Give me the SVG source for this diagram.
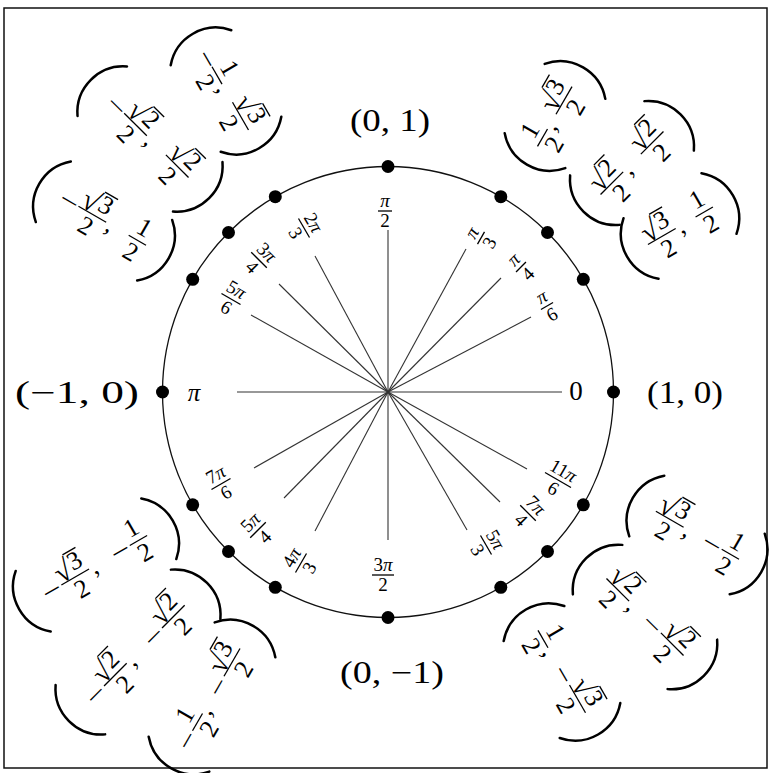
<svg xmlns="http://www.w3.org/2000/svg" width="776" height="773" viewBox="0 0 776 773">
<style>
.f{font-family:"Liberation Serif","DejaVu Serif",serif;font-size:26px;text-anchor:middle;fill:#000}
.r{font-family:"Liberation Serif","DejaVu Serif",serif;font-size:30px;fill:#000}
.d{font-family:"Liberation Serif","DejaVu Serif",serif;font-size:26px;fill:#000}
.a{font-family:"Liberation Serif","DejaVu Serif",serif;font-size:19px;text-anchor:middle;fill:#000}
.big{font-family:"Liberation Serif","DejaVu Serif",serif;font-size:31px;text-anchor:middle;fill:#000}
.i{font-style:italic}
.bar{stroke:#000;stroke-width:1.3;fill:none}
.par{fill:none;stroke:#000;stroke-width:2.5;stroke-linecap:round}
.dot{fill:#000}
.ray{stroke:#333;stroke-width:1.1;fill:none}
.circ{fill:none;stroke:#111;stroke-width:1.3}
.frame{fill:none;stroke:#111;stroke-width:1.5}
</style>
<rect class="frame" x="4" y="8" width="763" height="760"/>
<g id="circle"><circle class="circ" cx="388" cy="392" r="225.5"/></g>
<g id="connectors">
<path class="ray" d="M388 392L562 392"/>
<path class="ray" d="M388 392L531 317"/>
<path class="ray" d="M388 392L501 278"/>
<path class="ray" d="M388 392L466 249"/>
<path class="ray" d="M388 392L388 230"/>
<path class="ray" d="M388 392L315 256"/>
<path class="ray" d="M388 392L279 284"/>
<path class="ray" d="M388 392L251 315"/>
<path class="ray" d="M388 392L237 392"/>
<path class="ray" d="M388 392L254 468"/>
<path class="ray" d="M388 392L284 498"/>
<path class="ray" d="M388 392L315 531"/>
<path class="ray" d="M388 392L388 540"/>
<path class="ray" d="M388 392L467 530"/>
<path class="ray" d="M388 392L500 502"/>
<path class="ray" d="M388 392L527 469"/>
</g>

<g id="node-0">
<circle class="dot" cx="613.5" cy="392" r="6.5"/>
<text class="big" x="685" y="403" textLength="76" lengthAdjust="spacingAndGlyphs">(1, 0)</text>
<text class="f" x="576" y="400" style="font-size:27px">0</text>
</g>

<g id="node-30">
<circle class="dot" cx="583.3" cy="279.3" r="6.5"/>
<g transform="translate(547 306) rotate(-30)"><text class="a i" x="0" y="-4.5">π</text><path class="bar" d="M-7 0h14"/><text class="a" x="0" y="16">6</text></g>
<g transform="translate(680 226) rotate(-30)">
<path class="par" d="M-45 -35A46 46 0 0 0 -45 35"/><path class="par" d="M45 -35A46 46 0 0 1 45 35"/>
<text class="r" x="-37" y="-1">√</text><text class="d" x="-20" y="-6">3</text><path class="bar" d="M-21 -25.5h15"/><path class="bar" d="M-37 0h32"/><text class="f" x="-21" y="22">2</text>
<text class="f" x="0" y="8">,</text>
<text class="f" x="28" y="-6">1</text><path class="bar" d="M18 0h20"/><text class="f" x="28" y="22">2</text>
</g>
</g>

<g id="node-45">
<circle class="dot" cx="547.5" cy="232.5" r="6.5"/>
<g transform="translate(521 267) rotate(-45)"><text class="a i" x="0" y="-4.5">π</text><path class="bar" d="M-7 0h14"/><text class="a" x="0" y="16">4</text></g>
<g transform="translate(632 163) rotate(-45)">
<path class="par" d="M-52.5 -35A46 46 0 0 0 -52.5 35"/><path class="par" d="M52.5 -35A46 46 0 0 1 52.5 35"/>
<text class="r" x="-44.5" y="-1">√</text><text class="d" x="-27.5" y="-6">2</text><path class="bar" d="M-28.5 -25.5h15"/><path class="bar" d="M-44.5 0h32"/><text class="f" x="-28.5" y="22">2</text>
<text class="f" x="-7.5" y="8">,</text>
<text class="r" x="12.5" y="-1">√</text><text class="d" x="29.5" y="-6">2</text><path class="bar" d="M28.5 -25.5h15"/><path class="bar" d="M12.5 0h32"/><text class="f" x="28.5" y="22">2</text>
</g>
</g>

<g id="node-60">
<circle class="dot" cx="500.8" cy="196.7" r="6.5"/>
<g transform="translate(481 238) rotate(-60)"><text class="a i" x="0" y="-4.5">π</text><path class="bar" d="M-7 0h14"/><text class="a" x="0" y="16">3</text></g>
<g transform="translate(555 116) rotate(-60)">
<path class="par" d="M-40 -35A46 46 0 0 0 -40 35"/><path class="par" d="M40 -35A46 46 0 0 1 40 35"/>
<text class="f" x="-25" y="-6">1</text><path class="bar" d="M-35 0h20"/><text class="f" x="-25" y="22">2</text>
<text class="f" x="-11" y="8">,</text>
<text class="r" x="2" y="-1">√</text><text class="d" x="19" y="-6">3</text><path class="bar" d="M18 -25.5h15"/><path class="bar" d="M2 0h32"/><text class="f" x="18" y="22">2</text>
</g>
</g>

<g id="node-90">
<circle class="dot" cx="388" cy="166.5" r="6.5"/>
<text class="big" x="390" y="131" textLength="80" lengthAdjust="spacingAndGlyphs">(0, 1)</text>
<g transform="translate(385 211)"><text class="a i" x="0" y="-4.5">π</text><path class="bar" d="M-7 0h14"/><text class="a" x="0" y="16">2</text></g>
</g>

<g id="node-120">
<circle class="dot" cx="275.3" cy="196.7" r="6.5"/>
<g transform="translate(304 228) rotate(60)"><text class="a" x="0" y="-4.5">2<tspan class="i">π</tspan></text><path class="bar" d="M-11 0h22"/><text class="a" x="0" y="16">3</text></g>
<g transform="translate(226 91) rotate(60)">
<path class="par" d="M-50 -35A46 46 0 0 0 -50 35"/><path class="par" d="M50 -35A46 46 0 0 1 50 35"/>
<text class="f" x="-37" y="9" textLength="18" lengthAdjust="spacingAndGlyphs">−</text>
<text class="f" x="-18" y="-6">1</text><path class="bar" d="M-28 0h20"/><text class="f" x="-18" y="22">2</text>
<text class="f" x="-4" y="8">,</text>
<text class="r" x="13" y="-1">√</text><text class="d" x="30" y="-6">3</text><path class="bar" d="M29 -25.5h15"/><path class="bar" d="M13 0h32"/><text class="f" x="29" y="22">2</text>
</g>
</g>

<g id="node-135">
<circle class="dot" cx="228.5" cy="232.5" r="6.5"/>
<g transform="translate(259 260) rotate(45)"><text class="a" x="0" y="-4.5">3<tspan class="i">π</tspan></text><path class="bar" d="M-11 0h22"/><text class="a" x="0" y="16">4</text></g>
<g transform="translate(150 139) rotate(45)">
<path class="par" d="M-67.5 -35A46 46 0 0 0 -67.5 35"/><path class="par" d="M67.5 -35A46 46 0 0 1 67.5 35"/>
<text class="f" x="-47" y="9" textLength="19" lengthAdjust="spacingAndGlyphs">−</text>
<text class="r" x="-36.5" y="-1">√</text><text class="d" x="-19.5" y="-6">2</text><path class="bar" d="M-20.5 -25.5h15"/><path class="bar" d="M-36.5 0h32"/><text class="f" x="-20.5" y="22">2</text>
<text class="f" x="0.5" y="8">,</text>
<text class="r" x="22.5" y="-1">√</text><text class="d" x="39.5" y="-6">2</text><path class="bar" d="M38.5 -25.5h15"/><path class="bar" d="M22.5 0h32"/><text class="f" x="38.5" y="22">2</text>
</g>
</g>

<g id="node-150">
<circle class="dot" cx="192.7" cy="279.3" r="6.5"/>
<g transform="translate(231 299) rotate(30)"><text class="a" x="0" y="-4.5">5<tspan class="i">π</tspan></text><path class="bar" d="M-11 0h22"/><text class="a" x="0" y="16">6</text></g>
<g transform="translate(104 221) rotate(30)">
<path class="par" d="M-58.5 -35A46 46 0 0 0 -58.5 35"/><path class="par" d="M58.5 -35A46 46 0 0 1 58.5 35"/>
<text class="f" x="-40" y="9" textLength="19" lengthAdjust="spacingAndGlyphs">−</text>
<text class="r" x="-29.5" y="-1">√</text><text class="d" x="-12.5" y="-6">3</text><path class="bar" d="M-13.5 -25.5h15"/><path class="bar" d="M-29.5 0h32"/><text class="f" x="-13.5" y="22">2</text>
<text class="f" x="7.5" y="8">,</text>
<text class="f" x="38.5" y="-6">1</text><path class="bar" d="M28.5 0h20"/><text class="f" x="38.5" y="22">2</text>
</g>
</g>

<g id="node-180">
<circle class="dot" cx="162.5" cy="392" r="6.5"/>
<text class="big" x="77" y="403" textLength="124" lengthAdjust="spacingAndGlyphs">(−1, 0)</text>
<text class="f i" x="194" y="401" style="font-size:25px">π</text>
</g>

<g id="node-210">
<circle class="dot" cx="192.7" cy="504.8" r="6.5"/>
<g transform="translate(221 484) rotate(-30)"><text class="a" x="0" y="-4.5">7<tspan class="i">π</tspan></text><path class="bar" d="M-11 0h22"/><text class="a" x="0" y="16">6</text></g>
<g transform="translate(96 565) rotate(-30)">
<path class="par" d="M-72.5 -35A46 46 0 0 0 -72.5 35"/><path class="par" d="M72.5 -35A46 46 0 0 1 72.5 35"/>
<text class="f" x="-51" y="9" textLength="19" lengthAdjust="spacingAndGlyphs">−</text>
<text class="r" x="-40" y="-1">√</text><text class="d" x="-23" y="-6">3</text><path class="bar" d="M-24 -25.5h15"/><path class="bar" d="M-40 0h32"/><text class="f" x="-24" y="22">2</text>
<text class="f" x="-3" y="8">,</text>
<text class="f" x="28" y="9" textLength="19" lengthAdjust="spacingAndGlyphs">−</text>
<text class="f" x="49" y="-6">1</text><path class="bar" d="M39 0h20"/><text class="f" x="49" y="22">2</text>
</g>
</g>

<g id="node-225">
<circle class="dot" cx="228.5" cy="551.5" r="6.5"/>
<g transform="translate(258 530) rotate(-45)"><text class="a" x="0" y="-4.5">5<tspan class="i">π</tspan></text><path class="bar" d="M-11 0h22"/><text class="a" x="0" y="16">4</text></g>
<g transform="translate(138 652) rotate(-45)">
<path class="par" d="M-81.5 -35A46 46 0 0 0 -81.5 35"/><path class="par" d="M81.5 -35A46 46 0 0 1 81.5 35"/>
<text class="f" x="-60" y="9" textLength="19" lengthAdjust="spacingAndGlyphs">−</text>
<text class="r" x="-48" y="-1">√</text><text class="d" x="-31" y="-6">2</text><path class="bar" d="M-32 -25.5h15"/><path class="bar" d="M-48 0h32"/><text class="f" x="-32" y="22">2</text>
<text class="f" x="-11" y="8">,</text>
<text class="f" x="22" y="9" textLength="19" lengthAdjust="spacingAndGlyphs">−</text>
<text class="r" x="34" y="-1">√</text><text class="d" x="51" y="-6">2</text><path class="bar" d="M50 -25.5h15"/><path class="bar" d="M34 0h32"/><text class="f" x="50" y="22">2</text>
</g>
</g>

<g id="node-240">
<circle class="dot" cx="275.3" cy="587.3" r="6.5"/>
<g transform="translate(301 563) rotate(-60)"><text class="a" x="0" y="-4.5">4<tspan class="i">π</tspan></text><path class="bar" d="M-11 0h22"/><text class="a" x="0" y="16">3</text></g>
<g transform="translate(212 697) rotate(-60)">
<path class="par" d="M-66 -35A46 46 0 0 0 -66 35"/><path class="par" d="M66 -35A46 46 0 0 1 66 35"/>
<text class="f" x="-50" y="9" textLength="18" lengthAdjust="spacingAndGlyphs">−</text>
<text class="f" x="-29" y="-6">1</text><path class="bar" d="M-39 0h20"/><text class="f" x="-29" y="22">2</text>
<text class="f" x="-15" y="8">,</text>
<text class="f" x="12" y="9" textLength="18" lengthAdjust="spacingAndGlyphs">−</text>
<text class="r" x="24" y="-1">√</text><text class="d" x="41" y="-6">3</text><path class="bar" d="M40 -25.5h15"/><path class="bar" d="M24 0h32"/><text class="f" x="40" y="22">2</text>
</g>
</g>

<g id="node-270">
<circle class="dot" cx="388" cy="617.5" r="6.5"/>
<text class="big" x="392" y="683" textLength="104" lengthAdjust="spacingAndGlyphs">(0, −1)</text>
<g transform="translate(383 575)"><text class="a" x="0" y="-4.5">3<tspan class="i">π</tspan></text><path class="bar" d="M-11 0h22"/><text class="a" x="0" y="16">2</text></g>
</g>

<g id="node-300">
<circle class="dot" cx="500.8" cy="587.3" r="6.5"/>
<g transform="translate(486 545) rotate(60)"><text class="a" x="0" y="-4.5">5<tspan class="i">π</tspan></text><path class="bar" d="M-11 0h22"/><text class="a" x="0" y="16">3</text></g>
<g transform="translate(562 672) rotate(60)">
<path class="par" d="M-56 -35A46 46 0 0 0 -56 35"/><path class="par" d="M56 -35A46 46 0 0 1 56 35"/>
<text class="f" x="-38" y="-6">1</text><path class="bar" d="M-48 0h20"/><text class="f" x="-38" y="22">2</text>
<text class="f" x="-24" y="8">,</text>
<text class="f" x="3" y="9" textLength="18" lengthAdjust="spacingAndGlyphs">−</text>
<text class="r" x="15" y="-1">√</text><text class="d" x="32" y="-6">3</text><path class="bar" d="M31 -25.5h15"/><path class="bar" d="M15 0h32"/><text class="f" x="31" y="22">2</text>
</g>
</g>

<g id="node-315">
<circle class="dot" cx="547.5" cy="551.5" r="6.5"/>
<g transform="translate(528 513) rotate(45)"><text class="a" x="0" y="-4.5">7<tspan class="i">π</tspan></text><path class="bar" d="M-11 0h22"/><text class="a" x="0" y="16">4</text></g>
<g transform="translate(645 617) rotate(45)">
<path class="par" d="M-67 -35A46 46 0 0 0 -67 35"/><path class="par" d="M67 -35A46 46 0 0 1 67 35"/>
<text class="r" x="-54.5" y="-1">√</text><text class="d" x="-37.5" y="-6">2</text><path class="bar" d="M-38.5 -25.5h15"/><path class="bar" d="M-54.5 0h32"/><text class="f" x="-38.5" y="22">2</text>
<text class="f" x="-17.5" y="8">,</text>
<text class="f" x="10.5" y="9" textLength="19" lengthAdjust="spacingAndGlyphs">−</text>
<text class="r" x="22.5" y="-1">√</text><text class="d" x="39.5" y="-6">2</text><path class="bar" d="M38.5 -25.5h15"/><path class="bar" d="M22.5 0h32"/><text class="f" x="38.5" y="22">2</text>
</g>
</g>

<g id="node-330">
<circle class="dot" cx="583.3" cy="504.8" r="6.5"/>
<g transform="translate(558 480) rotate(30)"><text class="a" x="0" y="-4.5">11<tspan class="i">π</tspan></text><path class="bar" d="M-15 0h30"/><text class="a" x="0" y="16">6</text></g>
<g transform="translate(697 535) rotate(30)">
<path class="par" d="M-58 -35A46 46 0 0 0 -58 35"/><path class="par" d="M58 -35A46 46 0 0 1 58 35"/>
<text class="r" x="-47.5" y="-1">√</text><text class="d" x="-30.5" y="-6">3</text><path class="bar" d="M-31.5 -25.5h15"/><path class="bar" d="M-47.5 0h32"/><text class="f" x="-31.5" y="22">2</text>
<text class="f" x="-10.5" y="8">,</text>
<text class="f" x="17.5" y="9" textLength="19" lengthAdjust="spacingAndGlyphs">−</text>
<text class="f" x="38.5" y="-6">1</text><path class="bar" d="M28.5 0h20"/><text class="f" x="38.5" y="22">2</text>
</g>
</g>
</svg>
